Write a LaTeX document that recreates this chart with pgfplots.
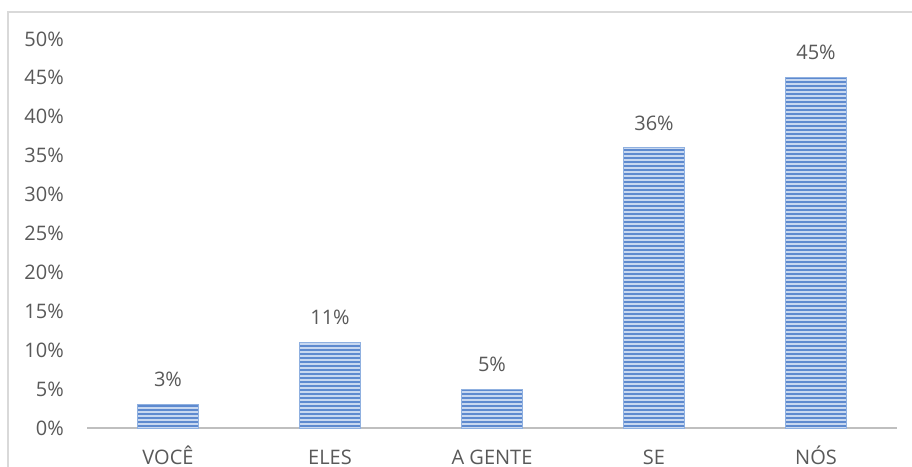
\documentclass[border=0pt]{standalone}
\usepackage{pgfplots}
\pgfplotsset{compat=1.18}
\usepackage{fontspec}
\setmainfont{Open Sans}
\usetikzlibrary{patterns}
\pgfdeclarepatternformonly{hstripes}{\pgfpoint{0pt}{0pt}}{\pgfpoint{300pt}{4pt}}{\pgfpoint{300pt}{4pt}}{%
  \pgfpathrectangle{\pgfpoint{-1pt}{0pt}}{\pgfpoint{302pt}{2.4pt}}\pgfusepath{fill}}
\definecolor{txt}{HTML}{595959}
\definecolor{barlight}{HTML}{C8D8F0}
\definecolor{bardark}{HTML}{5E8ACF}
\definecolor{baredge}{HTML}{8FB0E0}
\definecolor{axgray}{HTML}{BFBFBF}
\definecolor{brd}{HTML}{D9D9D9}
\begin{document}
\fontsize{20}{24}\selectfont
\begin{tikzpicture}[x=1pt,y=1pt]
\useasboundingbox (0,0) rectangle (912,466);
\fill[white] (0,0) rectangle (912,466);
\clip (0,0) rectangle (912,466);
\draw[brd, line width=1.3pt] (8,-10) -- (8,454) -- (930,454);
\begin{axis}[
  at={(87pt,38pt)}, anchor=south west,
  scale only axis, width=810pt, height=389pt,
  xmin=-0.5, xmax=4.5, ymin=0, ymax=50,
  axis x line*=bottom, axis y line*=left,
  x axis line style={draw=axgray, line width=2pt, -},
  y axis line style={draw=none},
  xtick=data, xticklabels={VOCÊ,ELES,A GENTE,SE,NÓS},
  ytick={0,5,...,50},
  yticklabel={\pgfmathprintnumber{\tick}\%},
  major tick style={draw=none},
  tick label style={font=\fontsize{20}{24}\selectfont, text=txt},
  yticklabel style={anchor=base east, inner sep=0pt, xshift=-23pt, yshift=-7.1pt},
  xticklabel style={anchor=base, inner sep=0pt, yshift=-32pt},
  /pgf/number format/assume math mode=true,
  ybar, bar width=61pt,
  nodes near coords={\pgfmathprintnumber{\pgfplotspointmeta}\%},
  nodes near coords style={font=\fontsize{20}{24}\selectfont, text=txt, anchor=base, inner sep=0pt, yshift=17.9pt},
  clip=false,
]
\addplot[fill=barlight, draw=baredge, line width=1pt,
  postaction={pattern=hstripes, pattern color=bardark}]
  coordinates {(0,3) (1,11) (2,5) (3,36) (4,45)};
\end{axis}
\end{tikzpicture}
\end{document}
